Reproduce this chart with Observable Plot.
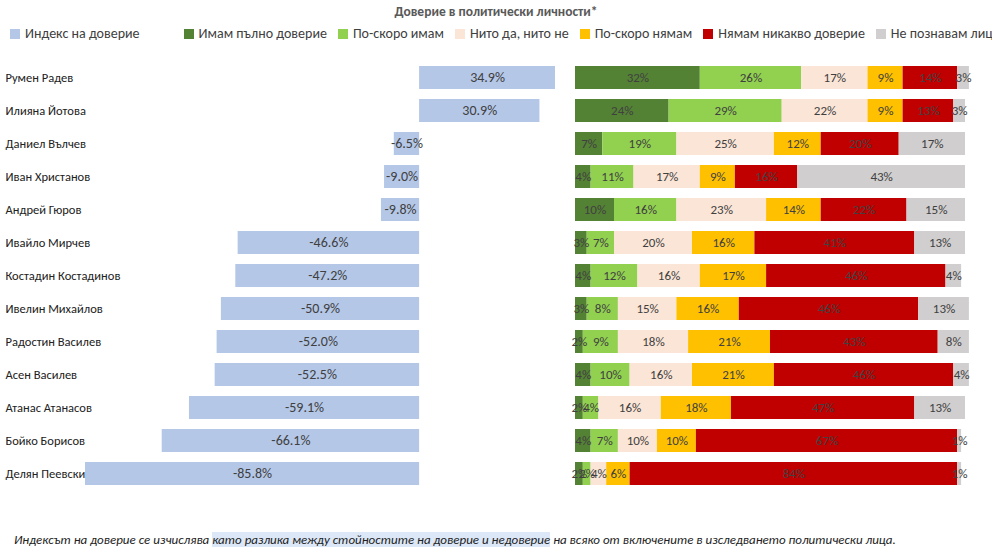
<!DOCTYPE html>
<html><head><meta charset="utf-8">
<script src="https://cdn.jsdelivr.net/npm/d3@7"></script>
<script src="https://cdn.jsdelivr.net/npm/@observablehq/plot@0.6"></script>
<style>
body{margin:0;font-family:Calibri,"Liberation Sans","Open Sans",sans-serif;background:#fff;color:#404040;width:992px;height:552px;position:relative;overflow:hidden}
#title{position:absolute;top:3px;left:0;width:992px;text-align:center;font-weight:bold;font-size:13.5px;color:#595959}
#legend{position:absolute;top:25px;left:10px;font-size:14px;white-space:nowrap}
#legend span{margin-right:11px}
#legend i{display:inline-block;width:10px;height:10px;margin-right:5px;vertical-align:-1px}
#left{position:absolute;top:45px;left:0}
#right{position:absolute;top:45px;left:565px}
#foot{position:absolute;top:532px;left:14px;font-size:13px;font-style:italic;color:#222;white-space:nowrap}
#foot b{font-weight:normal;background:#dce8f7}
</style></head><body>
<div id="title">Доверие в политически личности*</div>
<div id="legend"></div>
<div id="left"></div><div id="right"></div>
<div id="foot">Индексът на доверие се изчислява <b>като разлика между стойностите на доверие и недоверие</b> на всяко от включените в изследването политически лица.</div>
<script>
const names=["Румен Радев","Илияна Йотова","Даниел Вълчев","Иван Христанов","Андрей Гюров","Ивайло Мирчев","Костадин Костадинов","Ивелин Михайлов","Радостин Василев","Асен Василев","Атанас Атанасов","Бойко Борисов","Делян Пеевски"];
const indexVals=[34.9,30.9,-6.5,-9.0,-9.8,-46.6,-47.2,-50.9,-52.0,-52.5,-59.1,-66.1,-85.8];
const cats=["Имам пълно доверие","По-скоро имам","Нито да, нито не","По-скоро нямам","Нямам никакво доверие","Не познавам лицето"];
const colors=["#548235","#92d050","#fbe5d6","#ffc000","#c00000","#d0cece"];
const full=[32,24,7,4,10,3,4,3,2,4,2,4,2];
const rather=[26,29,19,11,16,7,12,8,9,10,4,7,2];
const neither=[17,22,25,17,23,20,16,15,18,16,16,10,4];
const ratherNot=[9,9,12,9,14,16,17,16,21,21,18,10,6];
const none=[14,13,20,16,22,41,46,46,43,46,47,67,84];
const unknown=[3,3,17,43,15,13,4,13,8,4,13,1,1];
const series=[full,rather,neither,ratherNot,none,unknown];

const lg=document.getElementById("legend");
lg.innerHTML=`<span><i style="background:#b4c7e7"></i>Индекс на доверие</span><span style="margin-left:22px"></span>`+
 cats.map((c,i)=>`<span><i style="background:${colors[i]}"></i>${c}</span>`).join("");

const idx=names.map((n,i)=>({name:n,v:indexVals[i]}));
const left=Plot.plot({width:565,height:462,marginLeft:85,marginRight:10,marginTop:5,marginBottom:5,
 x:{domain:[-85.8,34.9],axis:null},
 y:{domain:names,axis:null,padding:0.3},
 marks:[
  Plot.barX(idx,{x:"v",y:"name",fill:"#b4c7e7"}),
  Plot.text(idx,{x:d=>d.v/2,y:"name",text:d=>d.v.toFixed(1)+"%",fill:"#404040",fontSize:14}),
  Plot.text(idx,{x:()=>-85.8,y:"name",text:"name",dx:-80,textAnchor:"start",fill:"#222",fontSize:12.5})
 ],style:{fontFamily:"Calibri,'Liberation Sans',sans-serif"}});
document.getElementById("left").append(left);

const long=[];
names.forEach((n,i)=>cats.forEach((c,j)=>long.push({name:n,cat:c,v:series[j][i]})));
const right=Plot.plot({width:427,height:462,marginLeft:10,marginRight:27,marginTop:5,marginBottom:5,
 x:{domain:[0,100],axis:null},
 y:{domain:names,axis:null,padding:0.3},
 color:{domain:cats,range:colors},
 marks:[
  Plot.barX(long,Plot.stackX({x:"v",y:"name",fill:"cat",order:cats})),
  Plot.text(long,Plot.stackX({x:"v",y:"name",z:"cat",order:cats,text:d=>d.v+"%",fill:"#404040",fontSize:13}))
 ],style:{fontFamily:"Calibri,'Liberation Sans',sans-serif"}});
document.getElementById("right").append(right);
</script></body></html>
